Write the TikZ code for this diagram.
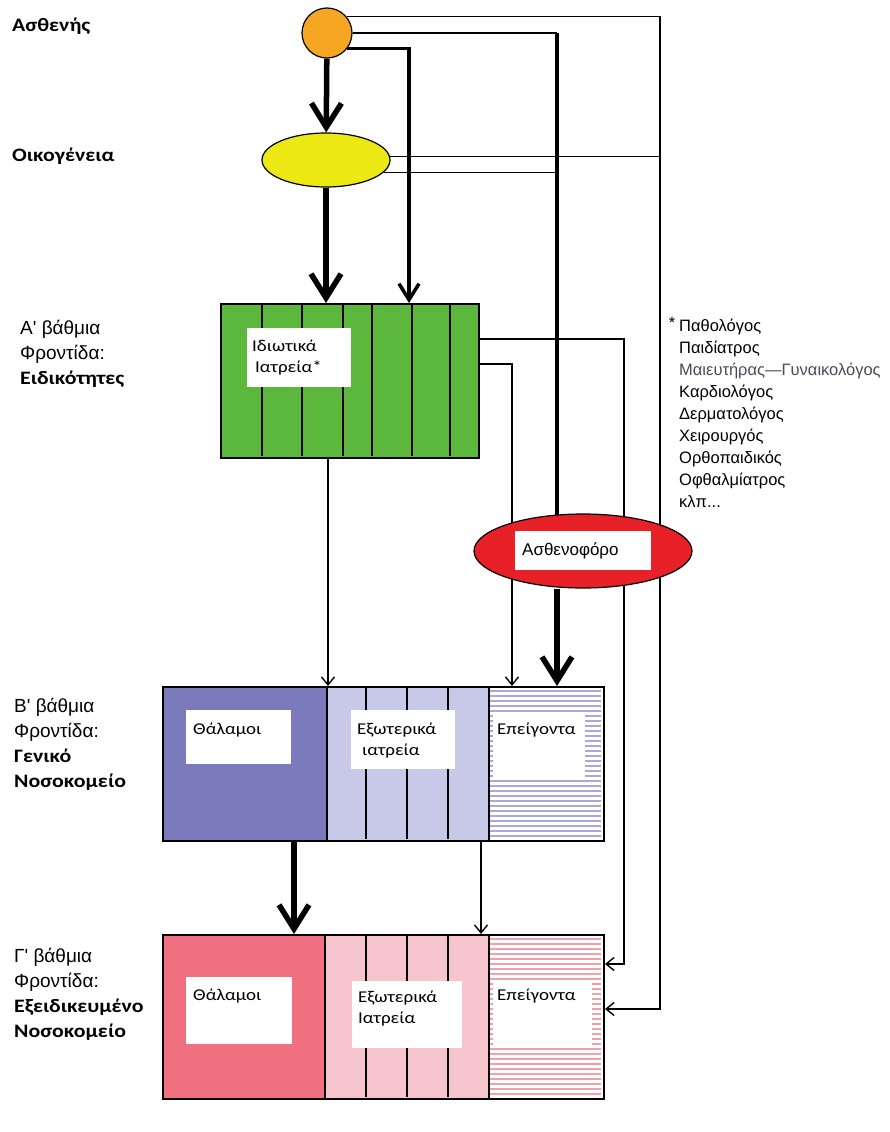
\documentclass[tikz,border=0pt]{standalone}
\usepackage{fontspec}
\setmainfont{Carlito}[FakeStretch=1.15]
\newfontfamily\tahoma{Liberation Sans}
\usetikzlibrary{arrows.meta,shapes.geometric}

\definecolor{patientorange}{HTML}{F5A623}
\definecolor{familyyellow}{HTML}{ECE814}
\definecolor{privgreen}{HTML}{5CB83C}
\definecolor{ambured}{HTML}{E82028}
\definecolor{genwards}{HTML}{7A7ABC}
\definecolor{genclinic}{HTML}{C8C8E8}
\definecolor{genstripe}{HTML}{A8A8DC}
\definecolor{spcwards}{HTML}{F07080}
\definecolor{spcclinic}{HTML}{F5C4CC}
\definecolor{spcstripe}{HTML}{F0A0AA}
\definecolor{softtext}{HTML}{4A4A5A}

\pgfdeclarelayer{background}
\pgfsetlayers{background,main}

\def\bigwidth{5.5pt}
\def\medwidth{3.5pt}
\def\thinwidth{1.4pt}

\newcommand{\boldlbl}{\rmfamily\bfseries\fontsize{19}{25}\selectfont}
\newcommand{\levelfont}{\tahoma\fontsize{19}{25}\selectfont}
\newcommand{\boxfont}{\rmfamily\fontsize{16.5}{21}\selectfont}
\newcommand{\listfont}{\tahoma\fontsize{16.5}{22}\selectfont}
\newcommand{\etcetera}{κλπ...}

\tikzset{
  conn/.style={draw=black, line width=\thinwidth},
  thinarrow/.style={conn, -{Straight Barb[length=8pt,width=13pt]}},
  medarrow/.style={draw=black, line width=\medwidth, -{Straight Barb[length=16pt,width=20pt]}},
  bigarrow/.style={draw=black, line width=\bigwidth, -{Straight Barb[length=24pt,width=30pt]}},
  cell/.style={draw=black, line width=2pt, anchor=north west, inner sep=0, minimum height=154},
  divider/.style={draw=black, line width=1.3pt},
  celltext/.style={anchor=west, inner sep=0, font=\boxfont, align=left},
  leveltext/.style={anchor=west, inner sep=0, font=\levelfont, align=left}
}

\begin{document}
\begin{tikzpicture}[x=1pt,y=-1pt]
\useasboundingbox (0,0) rectangle (890,1132);

% patient and family
\node[circle, draw, line width=1.2pt, fill=patientorange, minimum size=50, inner sep=0] (asthenis) at (327,33) {};
\node[ellipse, draw, line width=1.2pt, fill=familyyellow, minimum width=128, minimum height=54, inner sep=0] (oikogeneia) at (326,160) {};
\node[anchor=west, inner sep=0, font=\boldlbl] (lblAsthenis) at (12,26) {Ασθενής};
\node[anchor=west, inner sep=0, font=\boldlbl] (lblOikogeneia) at (12,156) {Οικογένεια};

% A' level
\node[cell, fill=privgreen, minimum width=258] (idiotika) at (220,303) {};
\foreach \xx in {262,302,343,372,412,450}
  \draw[divider] (\xx,304) -- (\xx,456);
\fill[white] (247,328) rectangle (351,387);
\node[celltext] (idiotikaTxt) at (252,358) {Ιδιωτικά\\\hspace*{3pt}Ιατρεία*};
\node[leveltext] (lvlA) at (20,354) {Α' βάθμια\\Φροντίδα:\\{\boldlbl Ειδικότητες}};

% specialties
\node[anchor=base, inner sep=0, font=\listfont] (star) at (672,328) {*};
\foreach \spec/\col [count=\i from 0] in {Παθολόγος/black, Παιδίατρος/black, Μαιευτήρας—Γυναικολόγος/softtext, Καρδιολόγος/black, Δερματολόγος/black, Χειρουργός/black, Ορθοπαιδικός/black, Οφθαλμίατρος/black, \etcetera/black}
  \node[anchor=base west, inner sep=0, font=\listfont, text=\col] (spec\i) at (679,{331+22*\i}) {\spec};

% ambulance
\node[ellipse, draw, line width=1.2pt, fill=ambured, minimum width=218, minimum height=74, inner sep=0] (asthenoforo) at (583,551) {};
\fill[white] (515,531) rectangle (651,570);
\node[anchor=west, inner sep=0, font=\tahoma\fontsize{17}{20}\selectfont] (asthenoforoTxt) at (522,551) {Ασθενοφόρο};

% B' level
\node[cell, fill=genwards, minimum width=164] (bThal) at (162,686) {};
\node[cell, fill=genclinic, minimum width=162] (bExt) at (326,686) {};
\node[cell, fill=white, minimum width=115] (bEpeig) at (488,686) {};
\foreach \xx in {366,407,448}
  \draw[divider] (\xx,687) -- (\xx,839);
\foreach \yy in {691,696,...,836}
  \draw[genstripe, line width=1.2pt] (490,\yy) -- (601,\yy);
\fill[white] (186,710) rectangle (291,764);
\fill[white] (351,710) rectangle (455,769);
\fill[white] (493,712) rectangle (585,780);
\node[celltext] (bThalTxt) at (193,730) {Θάλαμοι};
\node[celltext] (bExtTxt) at (357,741) {Εξωτερικά\\\hspace*{5pt}ιατρεία};
\node[celltext] (bEpeigTxt) at (497,730) {Επείγοντα};
\node[leveltext] (lvlB) at (14,744) {Β' βάθμια\\Φροντίδα:\\{\boldlbl Γενικό}\\{\boldlbl Νοσοκομείο}};

% C' level
\node[cell, fill=spcwards, minimum width=162, minimum height=164] (gThal) at (162,934) {};
\node[cell, fill=spcclinic, minimum width=164, minimum height=164] (gExt) at (324,934) {};
\node[cell, fill=white, minimum width=115, minimum height=164] (gEpeig) at (488,934) {};
\foreach \xx in {366,407,448}
  \draw[divider] (\xx,935) -- (\xx,1097);
\foreach \yy in {939,944,...,1094}
  \draw[spcstripe, line width=1.2pt] (490,\yy) -- (601,\yy);
\fill[white] (186,977) rectangle (292,1044);
\fill[white] (352,981) rectangle (462,1048);
\fill[white] (493,980) rectangle (592,1045);
\node[celltext] (gThalTxt) at (193,996) {Θάλαμοι};
\node[celltext] (gExtTxt) at (358,1009) {Εξωτερικά\\Ιατρεία};
\node[celltext] (gEpeigTxt) at (497,996) {Επείγοντα};
\node[leveltext] (lvlG) at (14,994) {Γ' βάθμια\\Φροντίδα:\\{\boldlbl Εξειδικευμένο}\\{\boldlbl Νοσοκομείο}};

\begin{pgfonlayer}{background}
\coordinate (railOuter) at (660,0);
\coordinate (railInner) at (624,0);
\coordinate (railAmb) at (557,0);
\coordinate (gIn1) at ([yshift=53pt]gEpeig.east);
\coordinate (gIn2) at ([yshift=8pt]gEpeig.east);

\draw[bigarrow] (asthenis) -- (oikogeneia);
\draw[thinarrow] (asthenis.40) -| (railOuter |- gIn2) -- (gIn2);
\draw[conn] (asthenis.east) -- (asthenis.east -| railAmb);
\draw[conn, line width=4pt] (asthenis.east -| railAmb) -- (railAmb |- asthenoforo.center);
\draw[medarrow] (asthenis.-37) -| ([xshift=59pt]idiotika.north);

\draw[bigarrow] (oikogeneia.south) -- (oikogeneia.south |- idiotika.north);
\draw[conn] (oikogeneia.3) -- (oikogeneia.3 -| railOuter);
\draw[conn] (oikogeneia.-12) -- (oikogeneia.-12 -| railAmb);

\draw[thinarrow] ([xshift=-22pt]idiotika.south) -- ([xshift=-22pt]idiotika.south |- bExt.north);
\draw[thinarrow] ([yshift=17pt]idiotika.east) -| ([xshift=-34.5pt]bEpeig.north);
\draw[thinarrow] ([yshift=42pt]idiotika.east) -| (railInner |- gIn1) -- (gIn1);
\draw[bigarrow] ([xshift=-26pt]asthenoforo.south) -- ([xshift=-26pt]asthenoforo.south |- bEpeig.north);

\draw[bigarrow] ([xshift=49pt]bThal.south) -- ([xshift=49pt]bThal.south |- gThal.north);
\draw[thinarrow] ([xshift=73pt]bExt.south) -- ([xshift=73pt]bExt.south |- gExt.north);
\end{pgfonlayer}
\end{tikzpicture}
\end{document}
